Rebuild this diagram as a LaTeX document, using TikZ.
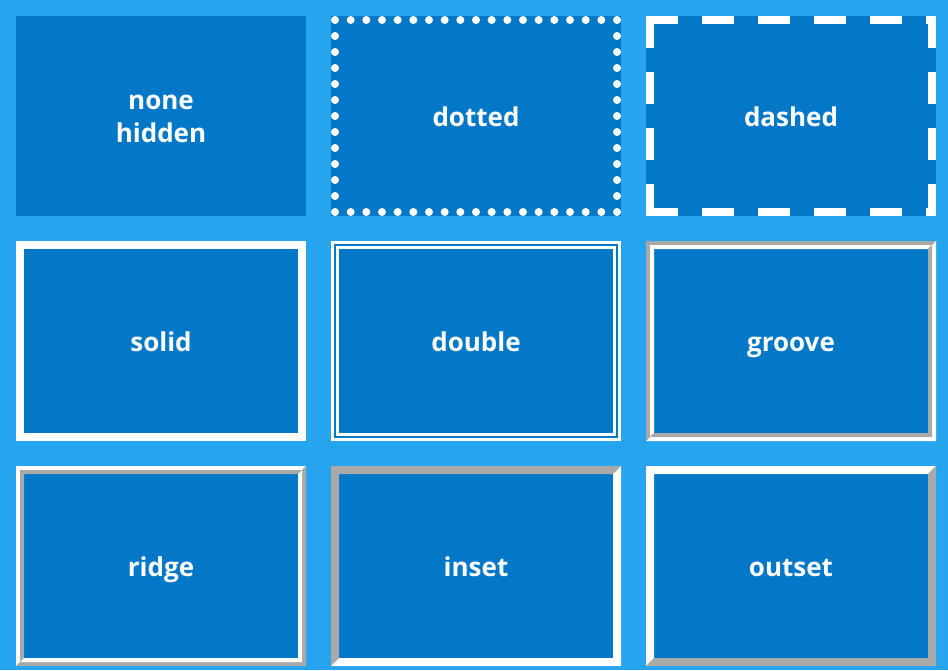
\documentclass[tikz,border=0pt]{standalone}
\usepackage{fontspec}
\setmainfont{Open Sans}
\usetikzlibrary{calc}
\definecolor{pagebg}{RGB}{38,165,238}
\definecolor{boxbg}{RGB}{3,119,200}
\definecolor{edgegray}{RGB}{169,169,169}

% #1 node, #2 inset, #3 width, #4 top/left colour, #5 bottom/right colour
\newcommand{\bevel}[5]{%
  \fill[#4] ($(#1.south west)+(#2,#2)$) -- ($(#1.north west)+(#2,-#2)$)
    -- ($(#1.north east)+(-#2,-#2)$) -- ($(#1.north east)+(-#2-#3,-#2-#3)$)
    -- ($(#1.north west)+(#2+#3,-#2-#3)$) -- ($(#1.south west)+(#2+#3,#2+#3)$) -- cycle;
  \fill[#5] ($(#1.north east)+(-#2,-#2)$) -- ($(#1.south east)+(-#2,#2)$)
    -- ($(#1.south west)+(#2,#2)$) -- ($(#1.south west)+(#2+#3,#2+#3)$)
    -- ($(#1.south east)+(-#2-#3,#2+#3)$) -- ($(#1.north east)+(-#2-#3,-#2-#3)$) -- cycle;
}

\begin{document}
\begin{tikzpicture}[x=1pt, y=1pt,
    cell/.style={fill=boxbg, text=white, minimum width=290pt, minimum height=200pt,
      inner sep=0pt, outer sep=0pt, align=center, text height=24pt, text depth=4pt,
      font=\fontsize{26}{33}\selectfont\bfseries},
    whiteline/.style={white, line width=8pt}]
    \fill[pagebg] (0,0) rectangle (948,-670);

    % row 1
    \node[cell, text height=57pt] (nonebox) at (161,-116) {none\\hidden};
    \node[cell] (dotbox) at (476,-116) {dotted};
    \node[cell] (dashbox) at (791,-116) {dashed};
    % row 2
    \node[cell] (solidbox) at (161,-341) {solid};
    \node[cell] (doublebox) at (476,-341) {double};
    \node[cell] (groovebox) at (791,-341) {groove};
    % row 3
    \node[cell] (ridgebox) at (161,-566) {ridge};
    \node[cell] (insetbox) at (476,-566) {inset};
    \node[cell] (outsetbox) at (791,-566) {outset};

    % dotted
    \begin{scope}[shift={(dotbox.north west)}]
        \foreach \i in {0,...,18}
            \fill[white] (4+\i*282/18,-4) circle (4pt) (4+\i*282/18,-196) circle (4pt);
        \foreach \j in {1,...,11}
            \fill[white] (4,-4-\j*16) circle (4pt) (286,-4-\j*16) circle (4pt);
    \end{scope}

    % dashed
    \begin{scope}[shift={(dashbox.north west)}, dash pattern=on 32pt off 24pt]
        \draw[whiteline] (0,-4) -- (290,-4);
        \draw[whiteline] (0,-196) -- (290,-196);
        \draw[whiteline] (4,0) -- (4,-200);
        \draw[whiteline] (286,0) -- (286,-200);
    \end{scope}

    % solid
    \draw[whiteline] ($(solidbox.north west)+(4,-4)$) rectangle ($(solidbox.south east)+(-4,4)$);

    % double
    \draw[white, line width=2.67pt] ($(doublebox.north west)+(1.33,-1.33)$) rectangle ($(doublebox.south east)+(-1.33,1.33)$);
    \draw[white, line width=2.67pt] ($(doublebox.north west)+(6.67,-6.67)$) rectangle ($(doublebox.south east)+(-6.67,6.67)$);

    % groove and ridge
    \bevel{groovebox}{0}{4}{edgegray}{white}
    \bevel{groovebox}{4}{4}{white}{edgegray}
    \bevel{ridgebox}{0}{4}{white}{edgegray}
    \bevel{ridgebox}{4}{4}{edgegray}{white}

    % inset and outset
    \bevel{insetbox}{0}{8}{edgegray}{white}
    \bevel{outsetbox}{0}{8}{white}{edgegray}
\end{tikzpicture}
\end{document}
